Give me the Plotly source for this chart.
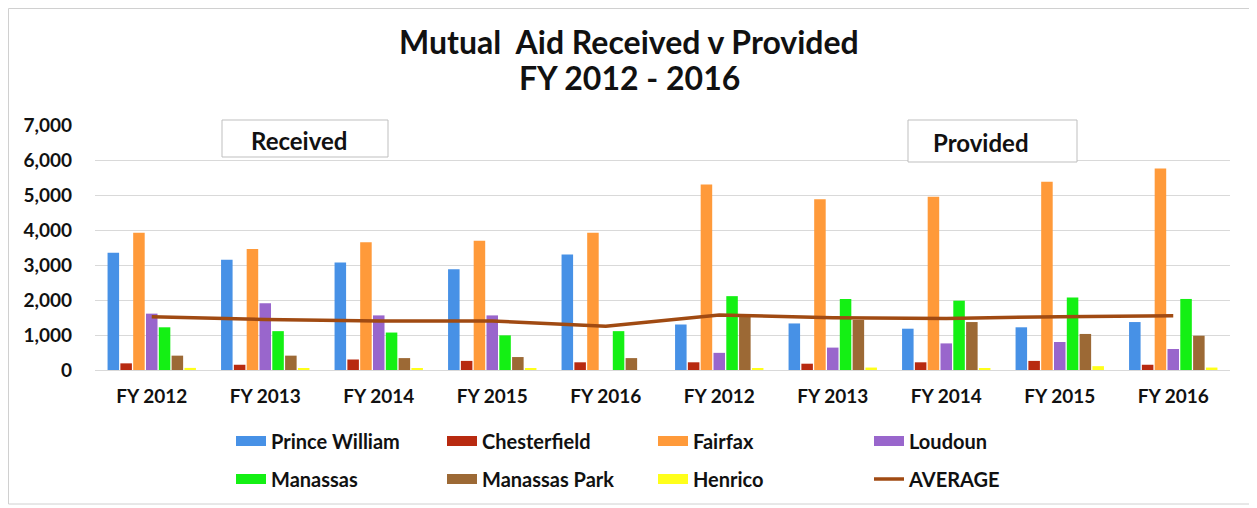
import plotly.graph_objects as go

# 分类：前五个为 Received，后五个为 Provided
fy_labels = ["FY 2012", "FY 2013", "FY 2014", "FY 2015", "FY 2016",
             "FY 2012", "FY 2013", "FY 2014", "FY 2015", "FY 2016"]

prince_william = [3350, 3150, 3070, 2880, 3300, 1300, 1330, 1180, 1220, 1370]
chesterfield = [190, 150, 300, 260, 220, 220, 180, 220, 260, 150]
fairfax = [3920, 3460, 3650, 3690, 3920, 5300, 4880, 4950, 5380, 5760]
loudoun = [1610, 1910, 1560, 1560, 0, 490, 640, 760, 800, 600]
manassas = [1220, 1110, 1070, 990, 1110, 2110, 2030, 1980, 2070, 2030]
manassas_park = [410, 410, 340, 370, 340, 1520, 1430, 1370, 1030, 980]
henrico = [60, 50, 50, 50, 0, 50, 70, 40, 110, 70]
average = [1520, 1440, 1400, 1400, 1250, 1570, 1495, 1475, 1525, 1550]

COLORS = {
    "Prince William": "#4791E6",
    "Chesterfield": "#B82A10",
    "Fairfax": "#FF9A3A",
    "Loudoun": "#9966CC",
    "Manassas": "#14F014",
    "Manassas Park": "#9C6935",
    "Henrico": "#FFFF1A",
    "AVERAGE": "#A04A12",
}
FONT = "Lato"

series = [
    ("Prince William", prince_william, "legend"),
    ("Chesterfield", chesterfield, "legend2"),
    ("Fairfax", fairfax, "legend3"),
    ("Loudoun", loudoun, "legend4"),
    ("Manassas", manassas, "legend"),
    ("Manassas Park", manassas_park, "legend2"),
    ("Henrico", henrico, "legend3"),
]

# 页面 body 有 8px 默认边距，画布按 1249x500 计算
PX0, PW_, PY1, PH = 95, 1135, 370, 245


def px(x):
    return (x - PX0) / PW_


def py(y):
    return (PY1 - y) / PH


xs = list(range(len(fy_labels)))
fig = go.Figure()
for name, vals, _ in series:
    fig.add_trace(go.Bar(x=xs, y=vals, name=name, marker_color=COLORS[name],
                         marker_line_width=0, showlegend=False))
fig.add_trace(go.Scatter(x=xs, y=average, mode="lines", name="AVERAGE",
                         line=dict(color=COLORS["AVERAGE"], width=3.5), showlegend=False))

# 图例：用宽线条模拟 Excel 风格的色块
for name, _, leg in series:
    fig.add_trace(go.Scatter(x=[None], y=[None], mode="lines", name=name, legend=leg,
                             legendgroup=name, line=dict(color=COLORS[name], width=12)))
fig.add_trace(go.Scatter(x=[None], y=[None], mode="lines", name="AVERAGE", legend="legend4",
                         legendgroup="AVERAGE", line=dict(color=COLORS["AVERAGE"], width=3.5)))

leg_font = dict(family=FONT, size=20, color="#111111", weight="bold")
leg_common = dict(orientation="v", yanchor="top", y=-0.21, xanchor="left",
                  font=leg_font, tracegroupgap=9, bgcolor="rgba(0,0,0,0)", itemwidth=30)
fig.update_layout(
    legend=dict(x=px(231), **leg_common),
    legend2=dict(x=px(442), **leg_common),
    legend3=dict(x=px(653), **leg_common),
    legend4=dict(x=px(869), **leg_common),
)

title_font = dict(family=FONT, size=32, color="#111111", weight="bold")
for txt, cy in [("Mutual  Aid Received v Provided", 41), ("FY 2012 - 2016", 77)]:
    fig.add_annotation(text=txt, xref="paper", yref="paper", x=px(629), y=py(cy),
                       xanchor="center", yanchor="middle", showarrow=False, font=title_font)

# Received / Provided 文本框
for label, x0, x1, y0, y1, tx, ty in [("Received", 222, 388, 120, 157, 299, 140),
                                      ("Provided", 908, 1077, 120, 162, 981, 142)]:
    fig.add_shape(type="rect", xref="paper", yref="paper",
                  x0=px(x0), x1=px(x1), y0=py(y1), y1=py(y0),
                  line=dict(color="#BFBFBF", width=1), fillcolor="white")
    fig.add_annotation(text=label, xref="paper", yref="paper", x=px(tx), y=py(ty),
                       xanchor="center", yanchor="middle", showarrow=False,
                       font=dict(family=FONT, size=24, color="#111111", weight="bold"))

# 外框
fig.add_shape(type="rect", xref="paper", yref="paper",
              x0=px(8.5), x1=px(1275), y0=py(504), y1=py(8.5),
              line=dict(color="#D0D0D0", width=1), layer="below")

fig.update_layout(
    width=1249, height=500, margin=dict(l=87, r=27, t=117, b=138, autoexpand=False),
    plot_bgcolor="white", paper_bgcolor="white",
    barmode="group", bargap=0.21, bargroupgap=0.1,
    font=dict(family=FONT, color="#111111"),
)
fig.update_xaxes(range=[-0.5, 9.5], tickvals=xs, ticktext=fy_labels, showgrid=False,
                 showline=True, linecolor="#D9D9D9", ticks="", ticklabelstandoff=9,
                 tickfont=dict(family=FONT, size=19, color="#111111", weight="bold"))
fig.update_yaxes(range=[0, 7000], dtick=1000, tickformat=",", showgrid=True,
                 gridcolor="#D9D9D9", gridwidth=1, zeroline=False, ticks="",
                 ticklabelstandoff=22,
                 tickfont=dict(family=FONT, size=19, color="#111111", weight="bold"))

fig.write_html("out.html")
